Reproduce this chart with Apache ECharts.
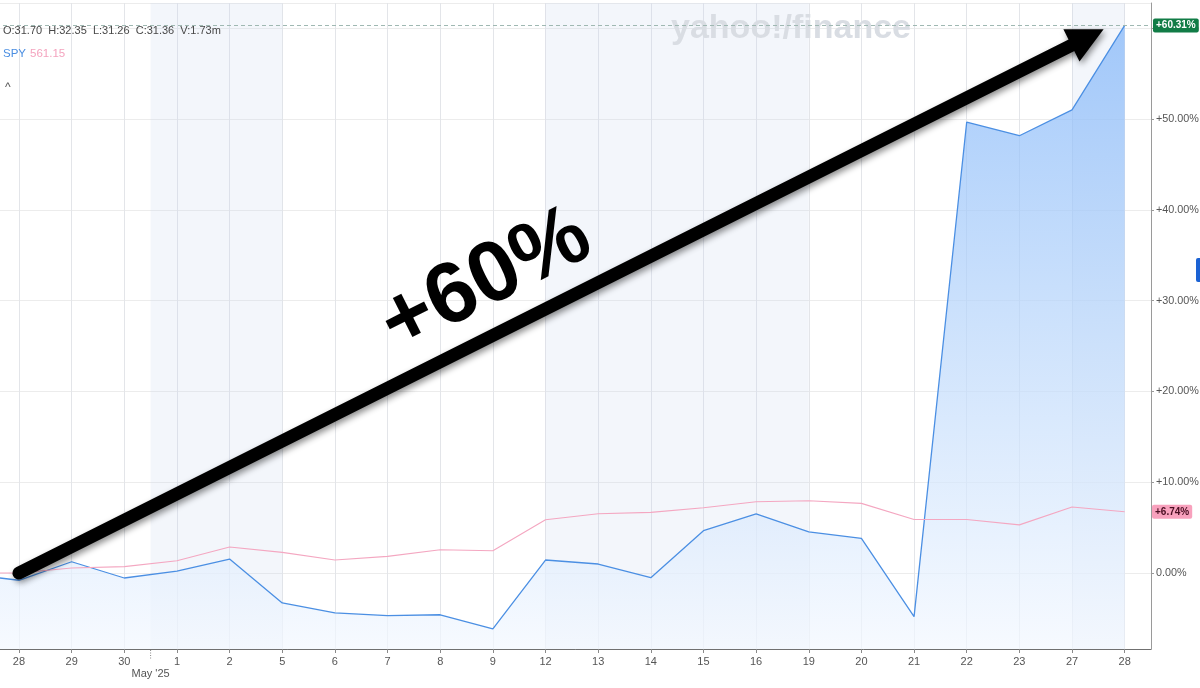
<!DOCTYPE html>
<html>
<head>
<meta charset="utf-8">
<script src="https://cdn.jsdelivr.net/npm/echarts@6/dist/echarts.min.js"></script>
<style>
html,body{margin:0;padding:0;background:#fff;}
#c{width:1200px;height:688px;}
</style>
</head>
<body>
<div id="c"></div>
<script>
// ---- data (percent change from start) ----
const categories = ['25','28','29','30','1','2','5','6','7','8','9','12','13','14','15','16','19','20','21','22','23','27','28'];
const stockValues = [-0.1, -0.8, 1.24, -0.55, 0.2, 1.54, -3.3, -4.4, -4.7, -4.6, -6.15, 1.43, 0.99, -0.52, 4.66, 6.5, 4.52, 3.82, -4.81, 49.67, 48.16, 51.0, 60.31];
const spyValues = [0, 0, 0.55, 0.7, 1.35, 2.86, 2.27, 1.43, 1.83, 2.56, 2.45, 5.87, 6.53, 6.68, 7.19, 7.85, 7.96, 7.67, 5.9, 5.9, 5.3, 7.27, 6.74];
const lastStock = 60.31;
const lastSpy = 6.74;
// shaded periods, in category-index units
const shadedBands = [[3.5, 6], [11, 16], [21, 22]];
const headerText = 'O:31.70  H:32.35  L:31.26  C:31.36  V:1.73m';
const legendTicker = 'SPY';
const legendValue = '561.15';
const monthLabel = "May '25";
const monthBoundary = 3.5;
const bigLabel = '+60%';

const FONT = "'Liberation Sans', Arial, Helvetica, sans-serif";
const chart = echarts.init(document.getElementById('c'), null, {renderer: 'canvas'});

const fmt = v => (v > 0 ? '+' : '') + v.toFixed(2) + '%';

const option = {
  animation: false,
  backgroundColor: '#ffffff',
  textStyle: {fontFamily: FONT},
  grid: {left: -60, right: 49, top: 3, bottom: 39, containLabel: false, outerBoundsMode: 'none'},
  xAxis: [
    {
      type: 'category',
      data: categories,
      boundaryGap: true,
      position: 'bottom',
      axisLine: {show: true, onZero: false, lineStyle: {color: '#707070', width: 1}},
      axisTick: {show: true, alignWithLabel: true, length: 4, lineStyle: {color: '#8a8a8a'}},
      axisLabel: {interval: 0, color: '#555', fontSize: 11, margin: 7, fontFamily: FONT},
      splitLine: {show: false}
    },
    {
      type: 'value',
      min: -0.5,
      max: categories.length - 0.5,
      splitNumber: categories.length,
      position: 'top',
      axisLine: {show: false, onZero: false},
      axisTick: {show: false},
      axisLabel: {show: false},
      splitLine: {show: true, lineStyle: {color: '#e3e5e9', width: 1}}
    }
  ],
  yAxis: {
    type: 'value',
    position: 'right',
    min: -8.37,
    max: 62.78,
    splitNumber: 7,
    axisLine: {show: true, onZero: false, lineStyle: {color: '#9a9a9a', width: 1}},
    axisTick: {show: true, length: 3, lineStyle: {color: '#9a9a9a'}},
    axisLabel: {
      color: '#555', fontSize: 10.8, margin: 5, fontFamily: FONT,
      showMinLabel: false, showMaxLabel: false,
      formatter: fmt
    },
    splitLine: {show: true, lineStyle: {color: '#ececec', width: 1}}
  },
  series: [
    {
      name: 'bands',
      type: 'line',
      xAxisIndex: 1,
      data: [],
      z: 1,
      silent: true,
      markArea: {
        silent: true,
        itemStyle: {color: 'rgba(200,215,235,0.22)'},
        data: shadedBands.map(b => [{xAxis: b[0]}, {xAxis: b[1]}])
      }
    },
    {
      name: 'stock',
      type: 'line',
      data: stockValues,
      symbol: 'none',
      z: 2,
      lineStyle: {color: '#4b8fe3', width: 1.3},
      areaStyle: {
        origin: 'start',
        color: new echarts.graphic.LinearGradient(0, 0, 0, 1, [
          {offset: 0, color: '#7fb4f9'},
          {offset: 0.5, color: '#bad7fb'},
          {offset: 1, color: '#f3f8ff'}
        ])
      },
      markLine: {
        silent: true,
        symbol: 'none',
        lineStyle: {type: [4, 3], color: '#9fb8b2', width: 1},
        label: {
          position: 'end', distance: 2,
          formatter: fmt(lastStock),
          backgroundColor: '#117c46', color: '#fff',
          fontSize: 10, fontWeight: 'bold', fontFamily: FONT,
          padding: [2, 3, 2, 3], borderRadius: 2
        },
        data: [{yAxis: lastStock}]
      }
    },
    {
      name: 'SPY',
      type: 'line',
      data: spyValues,
      symbol: 'none',
      z: 3,
      lineStyle: {color: '#f4a7c1', width: 1.1},
      markLine: {
        silent: true,
        symbol: 'none',
        lineStyle: {color: 'rgba(0,0,0,0)', width: 1, type: 'solid'},
        label: {
          show: true,
          position: 'end', distance: 1,
          formatter: fmt(lastSpy),
          backgroundColor: '#f8a1bd', color: '#4a0e22',
          fontSize: 10, fontWeight: 'bold', fontFamily: FONT,
          padding: [2, 3, 2, 3], borderRadius: 2
        },
        data: [{yAxis: lastSpy}]
      }
    }
  ]
};
chart.setOption(option);

// ---- annotations anchored in data space ----
function px(x, y) {
  return chart.convertToPixel({xAxisIndex: 1, yAxisIndex: 0}, [x, y]);
}
const s = px(1, 0);          // 28 Apr, 0%
const t = px(21.6, 59.9);    // arrow tip near the final value
const dx = t[0] - s[0], dy = t[1] - s[1];
const len = Math.sqrt(dx * dx + dy * dy);
const ux = dx / len, uy = dy / len;
const nx = -uy, ny = ux;
const headLen = 36, headHalf = 18;
const mx = t[0] - headLen * ux, my = t[1] - headLen * uy;
const angle = Math.atan2(-dy, dx);
const textCenter = px(9.87, 32.15);
const mb = px(monthBoundary, 0);
const axisY = chart.convertToPixel({yAxisIndex: 0}, -8.37);
const shadow = {shadowBlur: 6, shadowColor: 'rgba(0,0,0,0.45)', shadowOffsetX: 2, shadowOffsetY: 3};

chart.setOption({
  graphic: [
    {
      type: 'text', z: 1, silent: true,
      style: {
        x: 791, y: 29, text: 'yahoo!/finance', fill: '#d9dde3',
        font: "bold 34px " + FONT, align: 'center', verticalAlign: 'middle'
      }
    },
    {
      type: 'text', z: 10, silent: true,
      style: {x: 3, y: 31, text: headerText, fill: '#474747', font: '11px ' + FONT, verticalAlign: 'middle'}
    },
    {
      type: 'text', z: 10, silent: true,
      style: {x: 3, y: 54, text: legendTicker, fill: '#4a8ee2', font: '11.5px ' + FONT, verticalAlign: 'middle'}
    },
    {
      type: 'text', z: 10, silent: true,
      style: {x: 30, y: 54, text: legendValue, fill: '#f4a3be', font: '11.5px ' + FONT, verticalAlign: 'middle'}
    },
    {
      type: 'text', z: 10, silent: true,
      style: {x: 5, y: 88, text: '^', fill: '#555', font: '12px ' + FONT, verticalAlign: 'middle'}
    },
    {
      type: 'rect', z: 10, silent: true,
      shape: {x: 1196, y: 258, width: 8, height: 24, r: 2},
      style: {fill: '#1b62d4'}
    },
    {
      type: 'line', z: 10, silent: true,
      shape: {x1: mb[0], y1: axisY + 1, x2: mb[0], y2: axisY + 11},
      style: {stroke: '#888', lineWidth: 1, lineDash: [1, 1.5]}
    },
    {
      type: 'text', z: 10, silent: true,
      style: {x: mb[0], y: axisY + 25, text: monthLabel, fill: '#555', font: '11px ' + FONT, align: 'center', verticalAlign: 'middle'}
    },
    {
      type: 'line', z: 100, silent: true,
      shape: {x1: s[0], y1: s[1], x2: mx + 4 * ux, y2: my + 4 * uy},
      style: Object.assign({stroke: '#000', lineWidth: 13, lineCap: 'round'}, shadow)
    },
    {
      type: 'polygon', z: 101, silent: true,
      shape: {points: [[t[0], t[1]], [mx + headHalf * nx, my + headHalf * ny], [mx - headHalf * nx, my - headHalf * ny]]},
      style: Object.assign({fill: '#000'}, shadow)
    },
    {
      type: 'text', z: 102, silent: true,
      x: textCenter[0], y: textCenter[1], rotation: angle,
      style: Object.assign({
        x: 0, y: 0, text: bigLabel, fill: '#000',
        font: 'bold 86px ' + FONT, align: 'center', verticalAlign: 'middle'
      }, shadow)
    }
  ]
});
</script>
</body>
</html>
